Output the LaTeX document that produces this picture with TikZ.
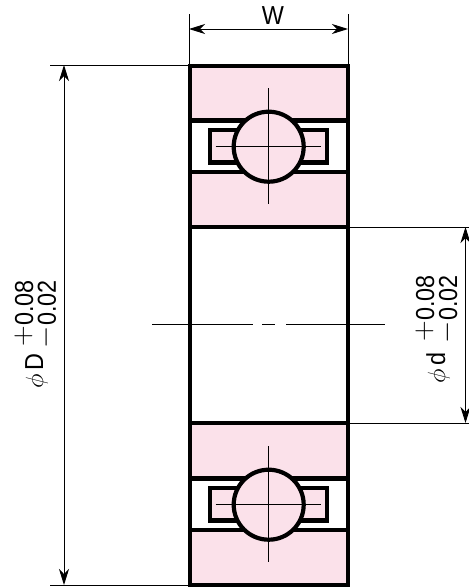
\documentclass[tikz,border=0pt]{standalone}
\usepackage{fontspec}
\setmainfont{Liberation Sans}[FakeStretch=0.9]
\usetikzlibrary{arrows.meta}
\definecolor{racepink}{HTML}{FBE1EA}
\tikzset{
  thickline/.style={line width=4.2pt},
  thinline/.style={line width=.9pt},
  dimline/.style={line width=.9pt,{Stealth[length=16pt,width=10pt,inset=5pt]}-{Stealth[length=16pt,width=10pt,inset=5pt]}},
  tollabel/.style={rotate=90,anchor=base east,inner sep=0pt,font=\fontsize{26}{26}\selectfont},
  namelabel/.style={inner sep=0pt,font=\fontsize{26}{26}\selectfont}
}
\newcommand{\bigsign}[1]{\raisebox{2.5pt}{\scalebox{1.15}{$#1$}}}
\begin{document}
\begin{tikzpicture}[x=1pt,y=-1pt]
  \useasboundingbox (0,0) rectangle (469,587);

  % bearing sections, upper and lower
  \foreach \yo in {0,358} {
    \fill[racepink] (190,66+\yo) rectangle (348,120.5+\yo);
    \fill[racepink] (190,172+\yo) rectangle (348,227+\yo);
    \draw[thickline] (190,120.5+\yo) -- (348,120.5+\yo);
    \draw[thickline] (190,172+\yo) -- (348,172+\yo);
    \draw[thickline,fill=racepink] (210,130+\yo) rectangle (327,162.5+\yo);
    \draw[thickline,fill=racepink] (268.7,146.7+\yo) circle[radius=35];
    \draw[thinline] (215.5,146.7+\yo) -- (321,146.7+\yo);
    \draw[thinline] (268.7,88+\yo) -- (268.7,203.5+\yo);
  }

  % outer lines
  \draw[thickline] (190,66) rectangle (348,585);
  \draw[thickline] (190,227) -- (348,227);
  \draw[thickline] (190,423) -- (348,423);

  % center line
  \draw[thinline] (152,324.5) -- (252.5,324.5);
  \draw[thinline] (262,324.5) -- (275,324.5);
  \draw[thinline] (286,324.5) -- (385,324.5);

  % extension lines
  \coordinate (wl) at (189,29);
  \coordinate (wr) at (348,29);
  \coordinate (dt) at (64,65);
  \coordinate (db) at (64,585);
  \coordinate (it) at (465.5,227);
  \coordinate (ib) at (465.5,423);
  \draw[thinline] (189,14) -- (189,66);
  \draw[thinline] (348,14) -- (348,66);
  \draw[thinline] (50,65) -- (190,65);
  \draw[thinline] (50,585) -- (190,585);
  \draw[thinline] (348,227) -- (469,227);
  \draw[thinline] (348,423) -- (469,423);

  % dimensions
  \draw[dimline] (wl) -- (wr);
  \draw[dimline] (dt) -- (db);
  \draw[dimline] (it) -- (ib);

  \node[namelabel] (wlabel) at (273,15.5) {W};

  \node[tollabel] (ophi) at (43,353) {$\phi$\,D};
  \node[tollabel] (oplus) at (33,280) {\bigsign{+}0.08};
  \node[tollabel] (ominus) at (56,280) {\bigsign{-}0.02};

  \node[tollabel] (iphi) at (445,352) {$\phi$\,d};
  \node[tollabel] (iplus) at (434,275) {\bigsign{+}0.08};
  \node[tollabel] (iminus) at (457,275) {\bigsign{-}0.02};
\end{tikzpicture}
\end{document}
